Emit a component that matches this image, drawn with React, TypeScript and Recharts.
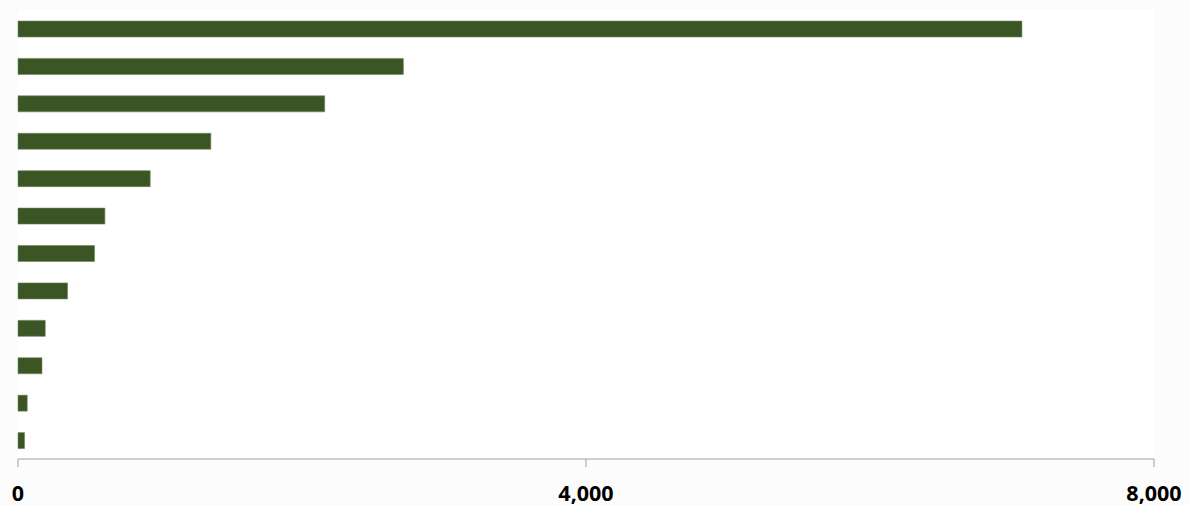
import { BarChart, Bar, XAxis, YAxis, CartesianGrid } from "recharts";

// category labels are not shown in the reference, so generic names
const categories = [
  "Item 1",
  "Item 2",
  "Item 3",
  "Item 4",
  "Item 5",
  "Item 6",
  "Item 7",
  "Item 8",
  "Item 9",
  "Item 10",
  "Item 11",
  "Item 12",
];
const values = [7070, 2714, 2160, 1358, 931, 612, 539, 349, 192, 169, 65, 46];
const xTicks = [0, 4000, 8000];

const data = categories.map((name, i) => ({ name, value: values[i] }));

function AxisTick(props: any) {
  const { x, y, payload } = props;
  return (
    <text
      x={x}
      y={y + 15}
      textAnchor="middle"
      fill="#000"
      fontFamily="'Open Sans', 'Noto Sans', sans-serif"
      fontSize={21.5}
      fontWeight="bold"
    >
      {Number(payload.value).toLocaleString("en-US")}
    </text>
  );
}

export default function App() {
  return (
    <div
      style={{
        position: "absolute",
        left: 0,
        top: 0,
        width: 1189,
        height: 506,
        background: "#fcfcfc",
      }}
    >
      <BarChart
        width={1189}
        height={506}
        data={data}
        layout="vertical"
        margin={{ top: 10, right: 35, bottom: 17, left: 18 }}
      >
        <CartesianGrid
          horizontal={false}
          vertical={false}
          stroke="none"
          fill="#ffffff"
        />
        <XAxis
          type="number"
          domain={[0, 8000]}
          ticks={xTicks}
          height={30}
          tickSize={8}
          tickMargin={19}
          stroke="#a0a0a0"
          tick={<AxisTick />}
        />
        <YAxis type="category" dataKey="name" hide width={0} />
        <Bar
          dataKey="value"
          fill="#3b5624"
          stroke="#6f8660"
          strokeWidth={0.6}
          barSize={16}
          isAnimationActive={false}
        />
      </BarChart>
    </div>
  );
}
